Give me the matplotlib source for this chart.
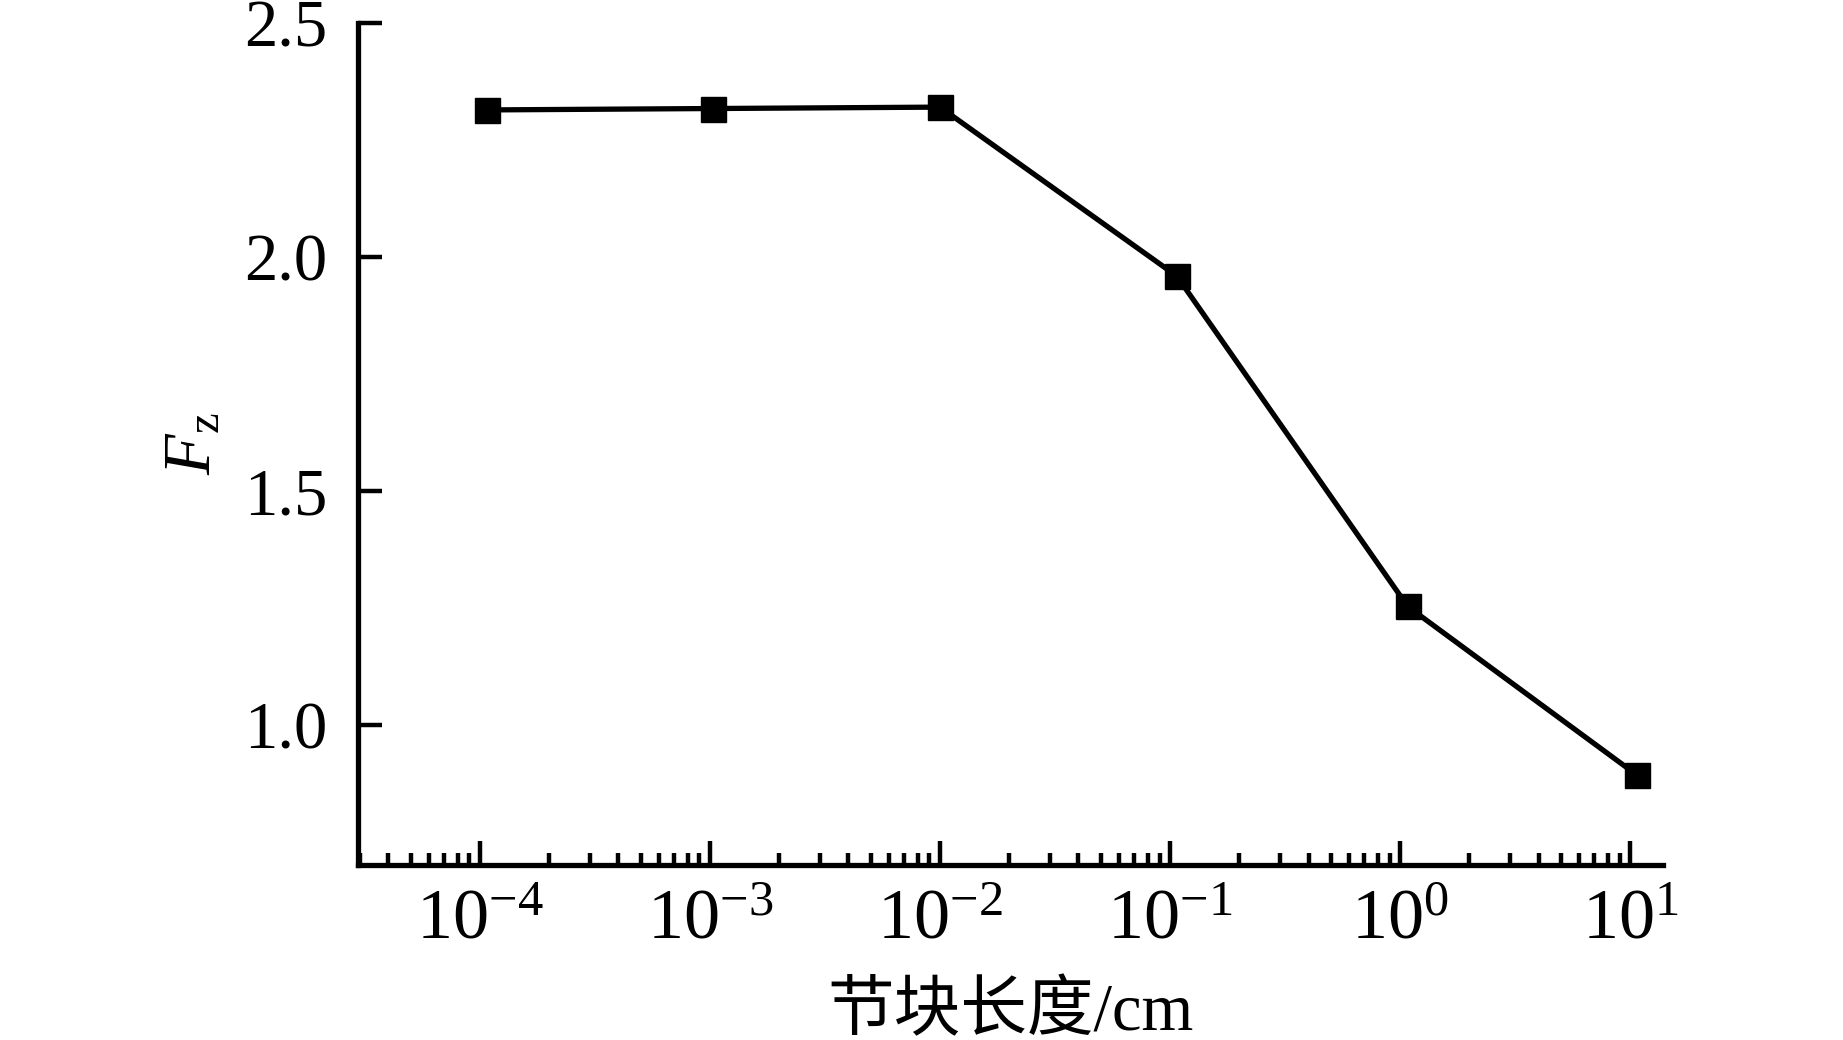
#!/usr/bin/env python3
import matplotlib
matplotlib.use("Agg")
import matplotlib.pyplot as plt
from matplotlib.ticker import FixedLocator, FixedFormatter, LogLocator, NullFormatter, NullLocator

plt.rcParams["font.family"] = ["Liberation Serif", "Noto Sans CJK SC"]
plt.rcParams["mathtext.fontset"] = "custom"
plt.rcParams["mathtext.rm"] = "Liberation Serif"
plt.rcParams["mathtext.it"] = "Liberation Serif:italic"

# data
block_len = [1.07e-4, 1.03e-3, 1.0e-2, 0.107, 1.08, 10.7]
fz = [2.314, 2.317, 2.320, 1.959, 1.253, 0.893]

xtick_vals = [1e-4, 1e-3, 1e-2, 1e-1, 1e0, 1e1]
xtick_labels = [r"$\mathrm{10^{-4}}$", r"$\mathrm{10^{-3}}$", r"$\mathrm{10^{-2}}$",
                r"$\mathrm{10^{-1}}$", r"$\mathrm{10^{0}}$", r"$\mathrm{10^{1}}$"]
ytick_vals = [1.0, 1.5, 2.0, 2.5]
ytick_labels = ["1.0", "1.5", "2.0", "2.5"]


def main():
    fig = plt.figure(figsize=(18.43, 10.40), dpi=100)
    ax = fig.add_axes([0.1943, 0.168, 0.708, 0.81])

    ax.plot(block_len, fz, color="black", lw=3.8, marker="s", ms=18,
            markerfacecolor="black", markeredgecolor="black", clip_on=False)

    ax.set_xscale("log")
    ax.set_xlim(10 ** -4.53, 10 ** 1.143)
    ax.set_ylim(0.7, 2.5)

    ax.xaxis.set_major_locator(FixedLocator(xtick_vals))
    ax.xaxis.set_major_formatter(FixedFormatter(xtick_labels))
    ax.xaxis.set_minor_locator(LogLocator(base=10, subs=range(2, 10), numticks=30))
    ax.xaxis.set_minor_formatter(NullFormatter())
    ax.yaxis.set_major_locator(FixedLocator(ytick_vals))
    ax.yaxis.set_major_formatter(FixedFormatter(ytick_labels))
    ax.yaxis.set_minor_locator(NullLocator())

    for side in ("top", "right"):
        ax.spines[side].set_visible(False)
    for side in ("left", "bottom"):
        ax.spines[side].set_linewidth(3.8)

    ax.tick_params(axis="both", which="major", direction="in", length=17, width=3.2)
    ax.tick_params(axis="x", which="major", pad=17, labelsize=52)
    ax.tick_params(axis="y", which="major", pad=22, labelsize=48)
    ax.tick_params(axis="x", which="minor", direction="in", length=8.5, width=3.2)

    ax.set_xlabel("节块长度/cm", fontsize=48, labelpad=20)
    ax.set_ylabel(r"$\mathit{F}_{\mathrm{z}}$", fontsize=48, labelpad=14)

    fig.savefig("out.png", dpi=100)


if __name__ == "__main__":
    main()
